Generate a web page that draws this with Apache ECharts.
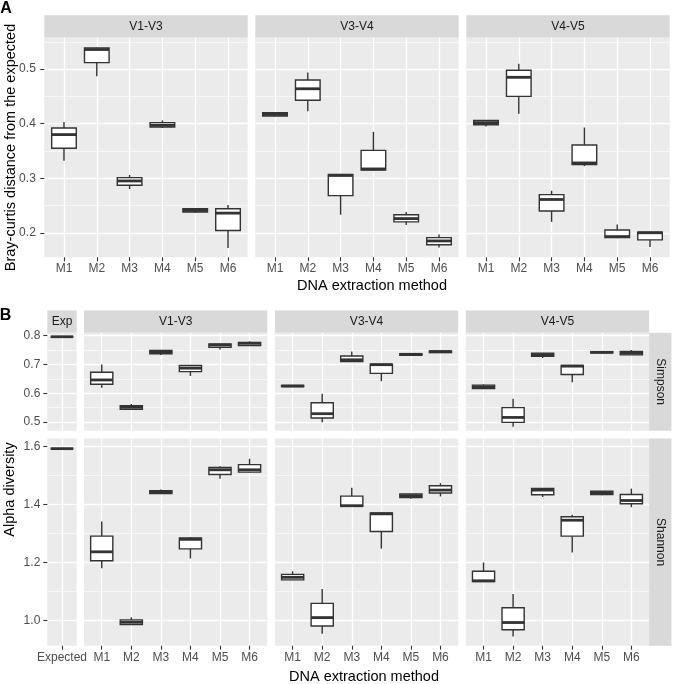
<!DOCTYPE html>
<html><head><meta charset="utf-8">
<script src="https://cdn.jsdelivr.net/npm/echarts@6/dist/echarts.min.js"></script>
<style>html,body{margin:0;padding:0;background:#fff}#c{width:673px;height:684px}</style>
</head><body><div id="c"></div>
<script>
// ---------- data ----------
const methods = ['M1', 'M2', 'M3', 'M4', 'M5', 'M6'];
const expectedCat = ['Expected'];
const regions = ['V1-V3', 'V3-V4', 'V4-V5'];
const metrics = ['Simpson', 'Shannon'];

// each row: [lower whisker, Q1, median, Q3, upper whisker]
const brayV1V3 = [
  [0.332, 0.355, 0.380, 0.392, 0.403],
  [0.487, 0.512, 0.536, 0.539, 0.540],
  [0.280, 0.287, 0.295, 0.301, 0.306],
  [0.392, 0.394, 0.397, 0.402, 0.406],
  [0.236, 0.238, 0.241, 0.244, 0.245],
  [0.172, 0.204, 0.236, 0.244, 0.251]
];
const brayV3V4 = [
  [0.413, 0.414, 0.417, 0.420, 0.421],
  [0.423, 0.443, 0.464, 0.480, 0.494],
  [0.233, 0.268, 0.305, 0.307, 0.308],
  [0.314, 0.315, 0.317, 0.351, 0.385],
  [0.214, 0.220, 0.226, 0.233, 0.238],
  [0.173, 0.178, 0.185, 0.191, 0.197]
];
const brayV4V5 = [
  [0.395, 0.398, 0.402, 0.406, 0.406],
  [0.418, 0.450, 0.485, 0.498, 0.510],
  [0.220, 0.240, 0.261, 0.270, 0.277],
  [0.322, 0.325, 0.328, 0.361, 0.393],
  [0.190, 0.191, 0.193, 0.205, 0.215],
  [0.174, 0.187, 0.200, 0.201, 0.202]
];

const simpsonExp = [[0.796, 0.796, 0.796, 0.796, 0.796]];
const simpsonV1V3 = [
  [0.619, 0.631, 0.646, 0.673, 0.700],
  [0.543, 0.544, 0.551, 0.557, 0.563],
  [0.733, 0.737, 0.743, 0.748, 0.749],
  [0.660, 0.675, 0.687, 0.696, 0.698],
  [0.752, 0.759, 0.767, 0.771, 0.772],
  [0.764, 0.765, 0.773, 0.776, 0.780]
];
const simpsonV3V4 = [
  [0.622, 0.623, 0.625, 0.627, 0.628],
  [0.499, 0.514, 0.529, 0.567, 0.598],
  [0.709, 0.710, 0.716, 0.729, 0.745],
  [0.642, 0.669, 0.699, 0.701, 0.702],
  [0.731, 0.732, 0.735, 0.737, 0.738],
  [0.740, 0.741, 0.744, 0.747, 0.748]
];
const simpsonV4V5 = [
  [0.615, 0.616, 0.622, 0.628, 0.631],
  [0.484, 0.499, 0.516, 0.550, 0.581],
  [0.722, 0.728, 0.734, 0.739, 0.740],
  [0.638, 0.665, 0.694, 0.696, 0.697],
  [0.739, 0.740, 0.742, 0.744, 0.745],
  [0.733, 0.733, 0.739, 0.745, 0.750]
];

const shannonExp = [[1.593, 1.593, 1.593, 1.593, 1.593]];
const shannonV1V3 = [
  [1.180, 1.206, 1.237, 1.291, 1.342],
  [0.985, 0.986, 0.994, 1.002, 1.011],
  [1.437, 1.438, 1.444, 1.448, 1.452],
  [1.214, 1.247, 1.280, 1.285, 1.288],
  [1.489, 1.504, 1.520, 1.528, 1.532],
  [1.510, 1.512, 1.520, 1.538, 1.558]
];
const shannonV3V4 = [
  [1.139, 1.140, 1.149, 1.159, 1.170],
  [0.954, 0.981, 1.010, 1.059, 1.109],
  [1.393, 1.394, 1.396, 1.429, 1.458],
  [1.248, 1.307, 1.368, 1.371, 1.372],
  [1.420, 1.424, 1.431, 1.437, 1.438],
  [1.428, 1.440, 1.450, 1.465, 1.474]
];
const shannonV4V5 = [
  [1.134, 1.134, 1.137, 1.170, 1.200],
  [0.945, 0.968, 0.993, 1.044, 1.091],
  [1.426, 1.434, 1.450, 1.456, 1.457],
  [1.235, 1.291, 1.346, 1.358, 1.365],
  [1.432, 1.435, 1.441, 1.446, 1.447],
  [1.391, 1.403, 1.414, 1.435, 1.455]
];

// axis ranges and tick labels
const brayRange = [0.155, 0.558];
const brayTicks = [0.2, 0.3, 0.4, 0.5];
const brayMinor = [0.25, 0.35, 0.45, 0.55];
const simpsonRange = [0.470, 0.810];
const simpsonTicks = [0.5, 0.6, 0.7, 0.8];
const simpsonMinor = [0.55, 0.65, 0.75];
const shannonRange = [0.913, 1.628];
const shannonTicks = [1.0, 1.2, 1.4, 1.6];
const shannonMinor = [1.1, 1.3, 1.5];

// ---------- layout / style ----------
const FONT = '"Liberation Sans", Arial, Helvetica, sans-serif';
const PANEL_BG = '#EBEBEB', STRIP_BG = '#D9D9D9', LINE = '#333333';
const grids = [], xAxes = [], yAxes = [], series = [], graphics = [];

function boxRenderer(boxW) {
  return function (params, api) {
    const x = api.value(0);
    const lo = api.coord([x, api.value(1)]);
    const q1 = api.coord([x, api.value(2)]);
    const md = api.coord([x, api.value(3)]);
    const q3 = api.coord([x, api.value(4)]);
    const hi = api.coord([x, api.value(5)]);
    const w = api.size([boxW, 0])[0];
    const cx = lo[0];
    const st = { stroke: LINE, lineWidth: 1.4 };
    return {
      type: 'group',
      children: [
        { type: 'line', shape: { x1: cx, y1: lo[1], x2: cx, y2: q1[1] }, style: st },
        { type: 'line', shape: { x1: cx, y1: q3[1], x2: cx, y2: hi[1] }, style: st },
        { type: 'rect', shape: { x: cx - w / 2, y: q3[1], width: w, height: q1[1] - q3[1] },
          style: { fill: '#FFFFFF', stroke: LINE, lineWidth: 1.4 } },
        { type: 'line', shape: { x1: cx - w / 2, y1: md[1], x2: cx + w / 2, y2: md[1] },
          style: { stroke: LINE, lineWidth: 2.8 } }
      ]
    };
  };
}

function addPanel(p) {
  const gi = grids.length;
  grids.push({ left: p.left, top: p.top, width: p.width, height: p.height, show: true,
    backgroundColor: PANEL_BG, borderWidth: 0 });
  const pos = p.cats.map((c, i) => i + 1);
  xAxes.push({
    type: 'value', gridIndex: gi, min: 0.4, max: p.cats.length + 0.6,
    axisLine: { show: false },
    axisTick: { show: p.showX, length: 4, customValues: pos, lineStyle: { color: LINE, width: 1.1 } },
    axisLabel: { show: p.showX, customValues: pos, margin: 5.5, color: '#4D4D4D', fontSize: 12,
      fontFamily: FONT, formatter: v => p.cats[Math.round(v) - 1] || '' },
    splitLine: { show: true, lineStyle: { color: '#FFFFFF', width: 1.3 } }
  });
  const yi = yAxes.length;
  yAxes.push({
    type: 'value', gridIndex: gi, min: p.range[0], max: p.range[1], position: 'left',
    axisLine: { show: false },
    axisTick: { show: p.showY, length: 4, customValues: p.majors, lineStyle: { color: LINE, width: 1.1 } },
    axisLabel: { show: p.showY, customValues: p.majors, margin: p.yMargin, color: '#4D4D4D', fontSize: 12,
      fontFamily: FONT, formatter: v => v.toFixed(1) },
    splitLine: { show: true, lineStyle: { color: '#FFFFFF', width: 1.3 } }
  });
  yAxes.push({
    type: 'value', gridIndex: gi, min: p.range[0], max: p.range[1], position: 'left',
    axisLine: { show: false },
    axisTick: { show: false, customValues: p.minors },
    axisLabel: { show: false, customValues: p.minors },
    splitLine: { show: true, lineStyle: { color: '#FFFFFF', width: 0.65 } }
  });
  series.push({
    type: 'custom', xAxisIndex: gi, yAxisIndex: yi,
    renderItem: boxRenderer(p.boxW),
    encode: { x: 0, y: [1, 2, 3, 4, 5] },
    data: p.stats.map((s, i) => [i + 1].concat(s)),
    z: 3, silent: true
  });
}

function strip(x, y, w, h, text, vertical) {
  graphics.push({ type: 'rect', shape: { x: x, y: y, width: w, height: h }, style: { fill: STRIP_BG }, silent: true });
  graphics.push({ type: 'text', x: x + w / 2, y: y + h / 2, rotation: vertical ? -Math.PI / 2 : 0,
    style: { text: text, x: 0, y: 0, align: 'center', verticalAlign: 'middle',
      font: '12px ' + FONT, fill: '#1A1A1A' }, silent: true });
}
function label(x, y, text, font, rot) {
  graphics.push({ type: 'text', x: x, y: y, rotation: rot || 0,
    style: { text: text, x: 0, y: 0, align: 'center', verticalAlign: 'middle', font: font, fill: '#000000' }, silent: true });
}

// ---- Panel A ----
const aLeft = [44.3, 255.3, 466.3], aW = 203.4, aTop = 37.5, aH = 219.8, stripH = 22.3;
const brayStats = [brayV1V3, brayV3V4, brayV4V5];
regions.forEach((r, i) => {
  addPanel({ left: aLeft[i], top: aTop, width: aW, height: aH, cats: methods, stats: brayStats[i],
    range: brayRange, majors: brayTicks, minors: brayMinor, showY: i === 0, showX: true, boxW: 0.75,
    yMargin: 8.5 });
  strip(aLeft[i], aTop - stripH, aW, stripH, r, false);
});

// ---- Panel B ----
const bCols = [[47.3, 29.4], [84.0, 183.3], [274.9, 183.3], [465.8, 183.3]];
const bRows = [[332.7, 98.0], [438.5, 207.2]];
const bStats = [
  [simpsonExp, simpsonV1V3, simpsonV3V4, simpsonV4V5],
  [shannonExp, shannonV1V3, shannonV3V4, shannonV4V5]
];
const bRanges = [simpsonRange, shannonRange];
const bMajors = [simpsonTicks, shannonTicks];
const bMinors = [simpsonMinor, shannonMinor];
bRows.forEach((row, ri) => {
  bCols.forEach((col, ci) => {
    addPanel({ left: col[0], top: row[0], width: col[1], height: row[1],
      cats: ci === 0 ? expectedCat : methods, stats: bStats[ri][ci],
      range: bRanges[ri], majors: bMajors[ri], minors: bMinors[ri],
      showY: ci === 0, showX: ri === 1, boxW: ci === 0 ? 0.92 : 0.75, yMargin: 7 });
  });
  strip(649.1, row[0], stripH, row[1], metrics[ri], true);
});
const bStripText = ['Exp'].concat(regions);
bCols.forEach((col, ci) => strip(col[0], bRows[0][0] - stripH, col[1], stripH, bStripText[ci], false));

// titles and panel letters
label(372, 286, 'DNA extraction method', '14.5px ' + FONT, 0);
label(364, 677, 'DNA extraction method', '14.5px ' + FONT, 0);
label(10.5, 147.5, 'Bray-curtis distance from the expected', '14.5px ' + FONT, Math.PI / 2);
label(10, 489.5, 'Alpha diversity', '14.5px ' + FONT, Math.PI / 2);
label(6, 9, 'A', 'bold 16px ' + FONT, 0);
label(5.5, 316, 'B', 'bold 16px ' + FONT, 0);

const chart = echarts.init(document.getElementById('c'), null, { renderer: 'canvas' });
chart.setOption({
  animation: false,
  backgroundColor: '#FFFFFF',
  grid: grids, xAxis: xAxes, yAxis: yAxes, series: series,
  graphic: { elements: graphics }
});
</script></body></html>
